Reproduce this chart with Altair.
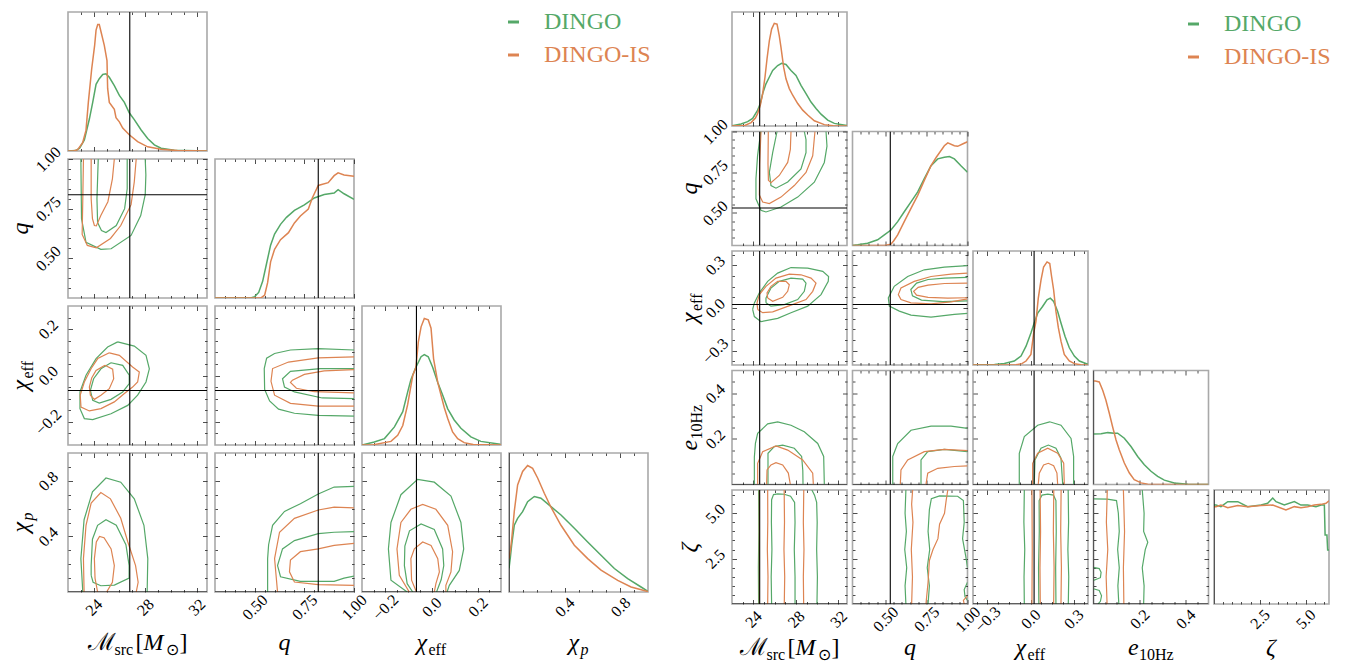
import altair as alt
import pandas as pd

GREEN = "#55a868"
ORANGE = "#dd8452"
SERIES = ["DINGO", "DINGO-IS"]
FONT = "Liberation Serif"
TWO_PI = 6.2832

# ====================== LEFT CORNER ======================
# 1D marginals: (value, relative height)
L_MC_G = [(22.0,0),(22.6,0.003),(22.9,0.02),(23.27,0.08),(23.66,0.23),(23.92,0.35),(24.18,0.48),(24.43,0.52),(24.70,0.55),(24.95,0.555),(25.21,0.53),(25.60,0.47),(25.99,0.40),(26.38,0.35),(26.76,0.275),(27.15,0.226),(27.67,0.153),(28.19,0.09),(28.71,0.044),(29.23,0.02),(30.26,0.005),(32.8,0)]
L_MC_O = [(22.0,0),(22.5,0.002),(22.75,0.01),(23.14,0.06),(23.40,0.15),(23.58,0.35),(23.84,0.59),(24.07,0.76),(24.18,0.87),(24.31,0.91),(24.43,0.91),(24.56,0.86),(24.82,0.76),(25.03,0.65),(25.08,0.45),(25.21,0.35),(25.60,0.30),(25.73,0.24),(25.99,0.21),(26.25,0.165),(26.76,0.117),(27.41,0.068),(28.19,0.03),(29.23,0.012),(30.5,0.003),(32.8,0)]
L_Q_G = [(0.30,0),(0.48,0.0),(0.50,0.01),(0.52,0.04),(0.54,0.12),(0.56,0.25),(0.58,0.38),(0.60,0.46),(0.63,0.53),(0.66,0.58),(0.70,0.63),(0.75,0.67),(0.80,0.72),(0.85,0.745),(0.90,0.755),(0.92,0.78),(0.95,0.75),(1.0,0.71)]
L_Q_O = [(0.30,0),(0.53,0.0),(0.55,0.02),(0.565,0.11),(0.58,0.26),(0.60,0.35),(0.63,0.42),(0.67,0.47),(0.70,0.54),(0.73,0.59),(0.77,0.64),(0.79,0.72),(0.82,0.81),(0.87,0.83),(0.90,0.88),(0.92,0.90),(0.95,0.885),(1.0,0.875)]
L_CHI_G = [(-0.30,0),(-0.247,0.022),(-0.203,0.046),(-0.16,0.13),(-0.124,0.24),(-0.103,0.38),(-0.089,0.47),(-0.067,0.56),(-0.045,0.635),(-0.031,0.65),(-0.014,0.635),(0.005,0.56),(0.027,0.45),(0.048,0.36),(0.07,0.26),(0.098,0.18),(0.127,0.12),(0.17,0.058),(0.213,0.026),(0.297,0.005)]
L_CHI_O = [(-0.30,0),(-0.25,0.002),(-0.175,0.026),(-0.146,0.07),(-0.124,0.14),(-0.103,0.29),(-0.081,0.50),(-0.067,0.56),(-0.057,0.74),(-0.045,0.85),(-0.031,0.91),(-0.014,0.90),(-0.002,0.84),(0.009,0.62),(0.027,0.45),(0.041,0.36),(0.055,0.27),(0.07,0.19),(0.091,0.094),(0.113,0.046),(0.141,0.017),(0.18,0.003),(0.30,0)]
L_CHIP_G = [(0,0.17),(0.01,0.25),(0.019,0.337),(0.038,0.48),(0.062,0.53),(0.098,0.578),(0.134,0.65),(0.182,0.687),(0.23,0.675),(0.302,0.614),(0.374,0.554),(0.47,0.458),(0.566,0.36),(0.662,0.265),(0.758,0.169),(0.854,0.096),(0.95,0.036),(1.0,0.005)]
L_CHIP_O = [(0,0.24),(0.01,0.30),(0.02,0.385),(0.038,0.58),(0.062,0.77),(0.098,0.867),(0.134,0.91),(0.17,0.89),(0.206,0.82),(0.254,0.71),(0.302,0.61),(0.374,0.48),(0.47,0.337),(0.566,0.24),(0.662,0.157),(0.782,0.084),(0.878,0.036),(1.0,0.003)]

# 2D contours (x, y) per panel: green [inner, outer], orange [inner, outer]
L_MC_Q_G = [[(24.35,1.0),(24.25,0.8),(24.3,0.68),(24.6,0.64),(24.95,0.63),(25.75,0.665),(26.4,0.75),(26.6,0.85),(26.6,1.0)],
            [(23.0,1.0),(23.05,0.70),(23.4,0.58),(24.55,0.545),(25.35,0.548),(26.9,0.615),(27.65,0.715),(28.0,0.82),(28.05,0.92),(28.0,1.0)]]
L_MC_Q_O = [[(23.8,1.0),(23.8,0.8),(23.9,0.70),(24.05,0.665),(24.2,0.663),(24.55,0.715),(25.1,0.785),(25.45,0.90),(25.6,1.0)],
            [(23.2,1.0),(23.15,0.8),(23.1,0.62),(23.5,0.565),(24.2,0.553),(25.3,0.60),(26.1,0.665),(26.9,0.77),(27.15,0.885),(27.3,1.0)]]
L_MC_CHI_G = [[(25.34,0.055),(26.25,0.044),(26.76,0.001),(26.76,-0.035),(26.25,-0.071),(25.34,-0.103),(24.43,-0.119),(23.92,-0.107),(23.74,-0.064),(23.99,-0.014),(24.56,0.029),(25.34,0.055)],
              [(25.86,0.145),(27.15,0.127),(28.06,0.087),(28.32,0.029),(28.06,-0.028),(27.41,-0.085),(26.64,-0.129),(25.34,-0.165),(23.92,-0.19),(23.27,-0.186),(22.93,-0.143),(22.93,-0.071),(23.40,0.001),(24.18,0.073),(25.08,0.123),(25.86,0.145)]]
L_MC_CHI_O = [[(24.87,0.044),(25.47,0.027),(25.55,-0.014),(25.21,-0.057),(24.56,-0.085),(24.05,-0.103),(23.74,-0.085),(23.66,-0.05),(23.84,-0.011),(24.18,0.022),(24.87,0.044)],
              [(25.21,0.098),(25.99,0.087),(27.02,0.037),(27.54,0.015),(27.41,-0.028),(27.02,-0.05),(26.38,-0.078),(25.60,-0.114),(24.56,-0.143),(23.66,-0.153),(23.01,-0.136),(22.95,-0.085),(23.27,-0.028),(23.79,0.029),(24.31,0.073),(25.21,0.098)]]
L_Q_CHI_G = [[(1.0,0.03),(0.83,0.03),(0.68,0.018),(0.64,-0.014),(0.65,-0.05),(0.70,-0.071),(0.84,-0.097),(1.0,-0.10)],
             [(1.0,0.11),(0.82,0.116),(0.68,0.11),(0.6,0.095),(0.56,0.075),(0.548,0.03),(0.55,-0.06),(0.575,-0.11),(0.62,-0.145),(0.70,-0.163),(0.82,-0.172),(1.0,-0.175)]]
L_Q_CHI_O = [[(1.0,0.025),(0.85,0.02),(0.75,0.005),(0.69,-0.02),(0.68,-0.03),(0.71,-0.055),(0.80,-0.07),(1.0,-0.075)],
             [(1.0,0.08),(0.82,0.076),(0.67,0.058),(0.59,0.03),(0.582,-0.025),(0.60,-0.085),(0.68,-0.12),(0.82,-0.132),(1.0,-0.132)]]
L_MC_CHIP_G = [[(23.8,0.12),(23.8,0.19),(23.9,0.38),(24.3,0.48),(24.95,0.52),(25.75,0.48),(26.5,0.34),(26.75,0.19),(26.75,0.10),(25.6,0.05),(24.55,0.045),(23.95,0.07),(23.8,0.12)],
               [(23.15,0.0),(23.0,0.24),(23.25,0.52),(23.9,0.72),(24.95,0.82),(26.1,0.79),(27.15,0.67),(27.9,0.48),(28.2,0.24),(28.15,0.0)]]
L_MC_CHIP_O = [[(24.3,0.0),(24.1,0.10),(24.05,0.24),(24.2,0.36),(24.45,0.40),(24.8,0.39),(25.35,0.31),(25.6,0.19),(25.45,0.07),(25.0,0.0)],
               [(23.25,0.0),(23.2,0.24),(23.4,0.48),(23.8,0.64),(24.55,0.715),(25.3,0.67),(26.1,0.53),(26.65,0.36),(27.25,0.19),(27.45,0.07),(27.3,0.0)]]
L_Q_CHIP_G = [[(1.0,0.435),(0.90,0.43),(0.82,0.42),(0.70,0.37),(0.64,0.31),(0.615,0.19),(0.63,0.11),(0.73,0.077),(0.90,0.077),(0.95,0.10),(1.0,0.115)],
              [(0.565,0.0),(0.565,0.24),(0.57,0.34),(0.59,0.48),(0.65,0.58),(0.73,0.635),(0.82,0.705),(0.90,0.755),(1.0,0.76)]]
L_Q_CHIP_O = [[(1.0,0.35),(0.90,0.336),(0.82,0.31),(0.73,0.29),(0.68,0.23),(0.675,0.145),(0.70,0.072),(0.82,0.053),(1.0,0.048)],
              [(0.615,0.0),(0.60,0.24),(0.625,0.43),(0.70,0.53),(0.82,0.59),(0.90,0.61),(1.0,0.605)]]
L_CHI_CHIP_G = [[(-0.081,0.0),(-0.105,0.06),(-0.117,0.19),(-0.115,0.33),(-0.095,0.44),(-0.045,0.49),(0.012,0.45),(0.048,0.31),(0.053,0.19),(0.042,0.09),(0.027,0.024),(0.022,0.0)],
                [(-0.105,0.0),(-0.175,0.085),(-0.186,0.31),(-0.175,0.50),(-0.132,0.70),(-0.06,0.81),(0.012,0.79),(0.084,0.69),(0.127,0.50),(0.139,0.31),(0.12,0.155),(0.077,0.048),(0.067,0.0)]]
L_CHI_CHIP_O = [[(-0.065,0.0),(-0.086,0.085),(-0.089,0.24),(-0.074,0.31),(-0.038,0.36),(-0.002,0.335),(0.027,0.24),(0.034,0.145),(0.019,0.06),(0.012,0.0)],
                [(-0.096,0.0),(-0.139,0.12),(-0.149,0.31),(-0.132,0.50),(-0.089,0.595),(-0.038,0.63),(0.019,0.595),(0.07,0.48),(0.091,0.29),(0.084,0.145),(0.062,0.048),(0.062,0.0)]]

# ====================== RIGHT CORNER ======================
R_MC_G = [(22,0.002),(22.85,0.017),(23.47,0.038),(23.94,0.067),(24.41,0.139),(24.66,0.197),(24.88,0.284),(25.19,0.37),(25.51,0.43),(25.82,0.487),(26.29,0.53),(26.66,0.55),(27.07,0.54),(27.54,0.487),(28.01,0.443),(28.48,0.357),(28.95,0.284),(29.42,0.21),(29.89,0.154),(30.36,0.104),(30.99,0.052),(31.61,0.023),(32.8,0.004)]
R_MC_O = [(22,0),(23.2,0.005),(23.8,0.03),(24.2,0.07),(24.41,0.11),(24.66,0.183),(24.88,0.284),(25.10,0.43),(25.29,0.59),(25.51,0.75),(25.72,0.85),(25.97,0.90),(26.23,0.893),(26.44,0.79),(26.60,0.69),(26.85,0.516),(27.07,0.414),(27.38,0.328),(27.70,0.27),(28.17,0.197),(28.64,0.139),(29.11,0.096),(29.73,0.046),(30.67,0.012),(31.5,0.002),(32.8,0)]
R_Q_G = [(0.3,0.0),(0.332,0.006),(0.392,0.02),(0.453,0.05),(0.494,0.093),(0.534,0.136),(0.575,0.209),(0.615,0.296),(0.656,0.383),(0.697,0.47),(0.737,0.586),(0.778,0.70),(0.819,0.76),(0.859,0.774),(0.89,0.78),(0.92,0.76),(0.96,0.70),(1.0,0.643)]
R_Q_O = [(0.3,0),(0.494,0.0),(0.534,0.012),(0.55,0.04),(0.575,0.093),(0.615,0.209),(0.656,0.325),(0.697,0.44),(0.737,0.571),(0.778,0.70),(0.81,0.774),(0.859,0.875),(0.88,0.90),(0.92,0.875),(0.94,0.87),(0.97,0.89),(1.0,0.91)]
R_CHI_G = [(-0.4,0),(-0.25,0.004),(-0.182,0.014),(-0.113,0.035),(-0.066,0.078),(-0.031,0.165),(0.003,0.28),(0.026,0.368),(0.05,0.455),(0.084,0.513),(0.115,0.571),(0.138,0.586),(0.161,0.557),(0.189,0.47),(0.212,0.368),(0.24,0.252),(0.27,0.151),(0.305,0.078),(0.34,0.035),(0.4,0.006)]
R_CHI_O = [(-0.4,0),(-0.1,0.003),(-0.06,0.012),(-0.031,0.035),(0.003,0.093),(0.022,0.28),(0.038,0.383),(0.054,0.585),(0.073,0.745),(0.091,0.86),(0.115,0.904),(0.134,0.89),(0.147,0.774),(0.161,0.658),(0.177,0.47),(0.194,0.325),(0.212,0.209),(0.235,0.093),(0.27,0.035),(0.305,0.012),(0.35,0.002),(0.4,0)]
R_E_G = [(0.0,0.443),(0.033,0.445),(0.062,0.455),(0.09,0.449),(0.105,0.45),(0.134,0.406),(0.163,0.333),(0.192,0.246),(0.221,0.174),(0.25,0.116),(0.279,0.072),(0.308,0.038),(0.351,0.014),(0.41,0.003),(0.5,0)]
R_E_O = [(0.0,0.907),(0.008,0.907),(0.025,0.899),(0.04,0.826),(0.054,0.739),(0.069,0.623),(0.083,0.507),(0.098,0.391),(0.112,0.304),(0.134,0.188),(0.156,0.101),(0.177,0.043),(0.207,0.014),(0.236,0.003),(0.3,0),(0.5,0)]
R_Z_G = [(0.0,0.868),(0.11,0.868),(0.38,0.854),(0.75,0.898),(1.30,0.898),(1.84,0.854),(2.57,0.868),(2.93,0.883),(3.21,0.93),(3.39,0.898),(3.84,0.868),(4.39,0.898),(4.75,0.868),(5.12,0.868),(5.57,0.854),(5.85,0.868),(6.03,0.868),(6.07,0.605),(6.17,0.605),(6.21,0.474),(6.2832,0.474)]
R_Z_O = [(0.0,0.854),(0.11,0.854),(0.38,0.868),(0.75,0.845),(1.30,0.863),(1.84,0.854),(2.57,0.863),(3.21,0.868),(3.93,0.825),(4.39,0.854),(4.75,0.845),(5.12,0.854),(5.48,0.868),(5.85,0.874),(6.12,0.883),(6.2832,0.905)]

R_MC_Q_G = [[(26.23,1.0),(25.82,0.87),(25.51,0.75),(25.66,0.668),(26.13,0.652),(27.23,0.69),(28.48,0.77),(28.95,0.87),(28.95,0.95),(28.79,1.0)],
            [(24.7,1.0),(24.4,0.85),(24.25,0.71),(24.25,0.587),(24.72,0.516),(25.19,0.506),(26.60,0.536),(28.17,0.597),(29.73,0.689),(30.67,0.81),(30.92,0.91),(30.83,1.0)]]
R_MC_Q_O = [[(25.41,1.0),(25.38,0.80),(25.42,0.70),(25.66,0.685),(26.44,0.73),(27.23,0.81),(27.48,0.89),(27.54,1.0)],
            [(24.72,1.0),(24.6,0.80),(24.57,0.61),(24.88,0.567),(25.51,0.557),(26.60,0.597),(27.85,0.668),(28.95,0.749),(29.58,0.851),(29.79,1.0)]]
R_MC_CHI_G = [[(25.19,0.036),(25.66,0.013),(26.91,0.024),(28.17,0.059),(28.79,0.117),(28.95,0.175),(28.64,0.203),(27.54,0.21),(26.44,0.187),(25.66,0.14),(25.19,0.07),(25.19,0.036)],
              [(23.94,-0.01),(24.1,0.036),(24.57,0.106),(25.35,0.187),(26.29,0.245),(27.54,0.284),(29.11,0.28),(30.52,0.257),(31.07,0.221),(31.04,0.187),(30.36,0.094),(29.11,0.013),(27.54,-0.033),(26.29,-0.073),(24.72,-0.096),(24.1,-0.06),(23.94,-0.01)]]
R_MC_CHI_O = [[(25.35,0.07),(25.82,0.047),(26.76,0.075),(27.23,0.117),(27.38,0.163),(27.07,0.187),(26.29,0.187),(25.66,0.152),(25.29,0.106),(25.35,0.07)],
              [(24.41,-0.01),(24.88,-0.033),(25.82,-0.027),(27.54,0.02),(28.95,0.059),(29.58,0.117),(29.89,0.175),(29.42,0.21),(28.48,0.233),(27.38,0.238),(26.13,0.21),(25.19,0.152),(24.57,0.094),(24.35,0.036),(24.41,-0.01)]]
R_Q_CHI_G = [[(1.0,0.215),(0.86,0.21),(0.76,0.20),(0.69,0.175),(0.655,0.13),(0.665,0.085),(0.72,0.055),(0.85,0.045),(1.0,0.05)],
             [(1.0,0.298),(0.859,0.287),(0.737,0.268),(0.636,0.221),(0.554,0.152),(0.518,0.071),(0.524,0.013),(0.585,-0.022),(0.656,-0.05),(0.778,-0.064),(0.92,-0.045),(1.0,-0.038)]]
R_Q_CHI_O = [[(1.0,0.175),(0.86,0.172),(0.76,0.16),(0.70,0.145),(0.672,0.117),(0.69,0.09),(0.76,0.075),(0.88,0.07),(1.0,0.072)],
             [(1.0,0.245),(0.90,0.238),(0.778,0.221),(0.676,0.187),(0.595,0.14),(0.579,0.094),(0.595,0.059),(0.656,0.036),(0.778,0.029),(0.90,0.043),(1.0,0.064)]]
R_MC_E_G = [[(25.38,0.0),(25.38,0.137),(25.97,0.166),(26.76,0.173),(27.85,0.159),(28.54,0.123),(28.65,0.06),(28.67,0.0)],
            [(24.1,0.0),(24.1,0.12),(24.2,0.18),(24.41,0.224),(25.35,0.266),(26.29,0.275),(27.54,0.26),(28.79,0.231),(30.05,0.18),(30.61,0.123),(30.67,0.0)]]
R_MC_E_O = [[(25.25,0.0),(25.29,0.064),(25.66,0.086),(26.13,0.096),(26.76,0.086),(27.29,0.05),(27.48,0.0)],
            [(24.41,0.0),(24.41,0.093),(24.88,0.144),(26.13,0.169),(27.23,0.151),(28.64,0.108),(29.58,0.05),(29.64,0.0)]]
R_Q_E_G = [[(0.717,0.0),(0.717,0.108),(0.758,0.144),(0.859,0.154),(1.0,0.144)],
           [(0.545,0.0),(0.545,0.123),(0.575,0.18),(0.656,0.238),(0.778,0.256),(0.90,0.256),(1.0,0.246)]]
R_Q_E_O = [[(0.747,0.0),(0.758,0.05),(0.819,0.071),(0.92,0.079),(1.0,0.082)],
           [(0.591,0.0),(0.595,0.064),(0.636,0.108),(0.737,0.144),(0.859,0.154),(1.0,0.149)]]
R_CHI_E_G = [[(0.026,0.0),(0.031,0.108),(0.073,0.159),(0.124,0.173),(0.177,0.159),(0.212,0.115),(0.224,0.0)],
             [(-0.078,0.0),(-0.078,0.137),(-0.043,0.21),(0.05,0.26),(0.133,0.275),(0.212,0.26),(0.282,0.202),(0.30,0.123),(0.30,0.0)]]
R_CHI_E_O = [[(0.054,0.0),(0.061,0.05),(0.091,0.086),(0.124,0.093),(0.161,0.082),(0.184,0.05),(0.189,0.0)],
             [(0.015,0.0),(0.015,0.093),(0.05,0.137),(0.12,0.159),(0.189,0.137),(0.231,0.093),(0.235,0.0)]]
R_MC_Z_G = [[(25.72,0.0),(25.68,1.5),(25.75,3.0),(25.7,4.5),(25.72,5.75),(25.9,6.03),(26.3,6.07),(26.9,6.05),(27.5,5.94),(27.88,5.6),(27.92,4.5),(27.85,3.0),(27.92,1.5),(27.92,0.0)],
            [(24.5,0.0),(24.48,2.0),(24.52,4.0),(24.5,6.2832)],
            [(29.98,0.0),(30.02,1.5),(29.95,3.0),(30.0,4.5),(29.95,5.6),(29.75,6.0),(29.5,6.2832)]]
R_MC_Z_O = [[(25.35,0.0),(25.38,1.5),(25.32,3.0),(25.36,4.5),(25.35,6.2832)],
            [(26.91,0.0),(26.95,1.5),(26.88,3.0),(26.93,4.5),(26.9,6.2832)],
            [(24.57,0.0),(24.57,6.2832)],
            [(28.73,0.0),(28.7,1.5),(28.76,3.0),(28.7,4.5),(28.74,6.2832)]]
R_Q_Z_G = [[(0.76,0.0),(0.768,1.0),(0.755,2.0),(0.77,3.0),(0.76,4.0),(0.768,5.2),(0.78,5.8),(0.83,5.96),(0.94,5.94),(0.975,5.7),(0.98,4.5),(0.97,3.6),(0.99,2.6),(1.0,2.0)],
           [(1.0,1.2),(0.98,0.8),(0.985,0.4),(1.0,0.2)],
           [(0.625,0.0),(0.62,1.0),(0.63,2.0),(0.618,3.0),(0.628,4.0),(0.62,5.0),(0.625,6.2832)]]
R_Q_Z_O = [[(0.747,0.0),(0.76,1.2),(0.768,2.4),(0.79,3.0),(0.82,3.6),(0.83,4.4),(0.86,5.0),(0.87,5.7),(0.88,6.2832)],
           [(1.0,0.45),(0.975,0.2),(0.98,0.0)],
           [(0.66,0.0),(0.665,1.5),(0.658,3.0),(0.668,4.5),(0.66,5.5),(0.666,6.2832)]]
R_CHI_Z_G = [[(0.058,0.0),(0.056,2.0),(0.061,4.0),(0.06,5.7),(0.08,6.0),(0.12,6.05),(0.16,6.0),(0.177,5.7),(0.179,4.0),(0.175,2.0),(0.177,0.0)],
             [(-0.043,0.0),(-0.045,1.5),(-0.04,3.0),(-0.046,4.5),(-0.043,6.2832)],
             [(0.263,0.0),(0.266,1.5),(0.26,3.0),(0.265,4.5),(0.262,6.2832)]]
R_CHI_Z_O = [[(0.068,0.0),(0.066,2.0),(0.07,4.0),(0.067,6.2832)],
             [(0.161,0.0),(0.164,2.0),(0.159,4.0),(0.162,6.2832)],
             [(0.01,0.0),(0.012,3.0),(0.01,6.2832)],
             [(0.212,0.0),(0.215,2.0),(0.21,4.0),(0.213,6.2832)]]
R_E_Z_G = [[(0.0,5.79),(0.06,5.78),(0.1,5.7),(0.108,5.0),(0.112,4.0),(0.105,3.0),(0.112,2.0),(0.106,1.0),(0.11,0.0)],
           [(0.0,2.02),(0.025,1.95),(0.033,1.75),(0.03,1.45),(0.0,1.3)],
           [(0.0,0.84),(0.025,0.75),(0.035,0.45),(0.03,0.15),(0.02,0.0)],
           [(0.218,0.0),(0.22,1.0),(0.212,2.0),(0.225,3.0),(0.236,3.4),(0.218,4.0),(0.22,5.0),(0.212,6.2832)]]
R_E_Z_O = [[(0.059,0.0),(0.055,1.5),(0.062,3.0),(0.056,4.5),(0.06,6.2832)],
           [(0.132,0.0),(0.13,2.0),(0.135,4.0),(0.13,6.2832)]]

# axis titles as pieces: (text, is_subscript, italic, approx. advance width in px)
T_MC = [("ℳ", 0, 0, 27), ("src", 1, 0, 21), ("[", 0, 0, 8), ("M", 0, 1, 22), ("⊙", 1, 0, 14), ("]", 0, 0, 8)]
T_Q = [("q", 0, 1, 12)]
T_CHI = [("χ", 0, 1, 12), ("eff", 1, 0, 18)]
T_CHIP = [("χ", 0, 1, 12), ("p", 1, 1, 8)]
T_E = [("e", 0, 1, 11), ("10Hz", 1, 0, 35)]
T_Z = [("ζ", 0, 1, 11)]

# axis definitions (domain, major ticks, minor ticks, format, title, injected value)
L_VARS = [
    dict(dom=[22.0, 32.8], maj=[24, 28, 32], mnr=[23, 25, 26, 27, 29, 30, 31], fmt="d", title=T_MC, truth=26.8),
    dict(dom=[0.3, 1.0], maj=[0.5, 0.75, 1.0], mnr=[0.35, 0.4, 0.45, 0.55, 0.6, 0.65, 0.7, 0.8, 0.85, 0.9, 0.95], fmt=".2f", title=T_Q, truth=0.82),
    dict(dom=[-0.3, 0.3], maj=[-0.2, 0.0, 0.2], mnr=[-0.25, -0.15, -0.1, -0.05, 0.05, 0.1, 0.15, 0.25], fmt=".1f", title=T_CHI, truth=-0.065),
    dict(dom=[0.0, 1.0], maj=[0.4, 0.8], mnr=[0.1, 0.2, 0.3, 0.5, 0.6, 0.7, 0.9], fmt=".1f", title=T_CHIP, truth=0.0),
]
R_VARS = [
    dict(dom=[22.0, 32.8], maj=[24, 28, 32], mnr=[23, 25, 26, 27, 29, 30, 31], fmt="d", title=T_MC, truth=24.6),
    dict(dom=[0.3, 1.0], maj=[0.5, 0.75, 1.0], mnr=[0.35, 0.4, 0.45, 0.55, 0.6, 0.65, 0.7, 0.8, 0.85, 0.9, 0.95], fmt=".2f", title=T_Q, truth=0.53),
    dict(dom=[-0.4, 0.4], maj=[-0.3, 0.0, 0.3], mnr=[-0.375, -0.225, -0.15, -0.075, 0.075, 0.15, 0.225, 0.375], fmt=".1f", title=T_CHI, truth=0.025),
    dict(dom=[0.0, 0.5], maj=[0.2, 0.4], mnr=[0.05, 0.1, 0.15, 0.25, 0.3, 0.35, 0.45], fmt=".1f", title=T_E, truth=0.0),
    dict(dom=[0.0, TWO_PI], maj=[2.5, 5.0], mnr=[0.5, 1.0, 1.5, 2.0, 3.0, 3.5, 4.0, 4.5, 5.5, 6.0], fmt=".1f", title=T_Z, truth=0.0),
]

L_HISTS = [(L_MC_G, L_MC_O), (L_Q_G, L_Q_O), (L_CHI_G, L_CHI_O), (L_CHIP_G, L_CHIP_O)]
L_CONTS = {(1, 0): (L_MC_Q_G, L_MC_Q_O), (2, 0): (L_MC_CHI_G, L_MC_CHI_O), (2, 1): (L_Q_CHI_G, L_Q_CHI_O),
           (3, 0): (L_MC_CHIP_G, L_MC_CHIP_O), (3, 1): (L_Q_CHIP_G, L_Q_CHIP_O), (3, 2): (L_CHI_CHIP_G, L_CHI_CHIP_O)}
R_HISTS = [(R_MC_G, R_MC_O), (R_Q_G, R_Q_O), (R_CHI_G, R_CHI_O), (R_E_G, R_E_O), (R_Z_G, R_Z_O)]
R_CONTS = {(1, 0): (R_MC_Q_G, R_MC_Q_O), (2, 0): (R_MC_CHI_G, R_MC_CHI_O), (2, 1): (R_Q_CHI_G, R_Q_CHI_O),
           (3, 0): (R_MC_E_G, R_MC_E_O), (3, 1): (R_Q_E_G, R_Q_E_O), (3, 2): (R_CHI_E_G, R_CHI_E_O),
           (4, 0): (R_MC_Z_G, R_MC_Z_O), (4, 1): (R_Q_Z_G, R_Q_Z_O), (4, 2): (R_CHI_Z_G, R_CHI_Z_O), (4, 3): (R_E_Z_G, R_E_Z_O)}

CSCALE = alt.Scale(domain=SERIES, range=[GREEN, ORANGE])
LABEL_FS = 16
TITLE_MAIN = 24
TITLE_SUB = 16
SUB_DROP = 5
DUMMY = pd.DataFrame({"k": [0]})


def lines_df(green_polys, orange_polys):
    rows = []
    for series, polys in ((SERIES[0], green_polys), (SERIES[1], orange_polys)):
        for k, poly in enumerate(polys):
            for i, (x, y) in enumerate(poly):
                rows.append({"x": x, "y": y, "series": series, "seg": f"{series}-{k}", "i": i})
    return pd.DataFrame(rows)


def tick_size(majors):
    test = "indexof([" + ",".join(repr(float(m)) for m in majors) + "], datum.value) >= 0"
    return {"condition": {"test": test, "value": 4.5}, "value": 2.5}


def tick_axis(orient, offset, v):
    return alt.Axis(orient=orient, offset=offset, values=sorted(v["maj"] + v["mnr"]),
                    tickSize=tick_size(v["maj"]), tickColor="#222222", tickWidth=0.8,
                    labels=False, domain=False, grid=False, title=None)


def label_axis(orient, v, pad):
    return alt.Axis(orient=orient, values=v["maj"], format=v["fmt"], ticks=False, tickSize=0,
                    domain=False, grid=False, labelAngle=-45, labelAlign="center",
                    labelBaseline="middle", labelPadding=pad, labelFont=FONT,
                    labelFontSize=LABEL_FS, labelColor="black", labelOverlap=False,
                    labelFlush=False, title=None)


def title_layers(pieces, W, H, vertical, base):
    total = sum(p[3] for p in pieces)
    out = []
    pos = 0
    for text, sub, ital, w in pieces:
        fs = TITLE_SUB if sub else TITLE_MAIN
        drop = SUB_DROP if sub else 0
        style = "italic" if ital else "normal"
        if vertical:
            mk = alt.Chart(DUMMY).mark_text(text=text, align="left", baseline="alphabetic", angle=270,
                                            font=FONT, fontSize=fs, fontStyle=style, color="black")
            out.append(mk.encode(x=alt.value(-base + drop), y=alt.value(H / 2 + total / 2 - pos)))
        else:
            mk = alt.Chart(DUMMY).mark_text(text=text, align="left", baseline="alphabetic",
                                            font=FONT, fontSize=fs, fontStyle=style, color="black")
            out.append(mk.encode(x=alt.value(W / 2 - total / 2 + pos), y=alt.value(H + base + drop)))
        pos += w
    return out


def panel(W, H, xv, yv, df, show_x, show_y, diag, geo):
    xs = alt.Scale(domain=xv["dom"], nice=False, zero=False)
    ydom = [0.0, 1.0] if diag else yv["dom"]
    ys = alt.Scale(domain=ydom, nice=False, zero=False)
    corners = pd.DataFrame({"x": xv["dom"], "y": ydom})
    inv1 = alt.Chart(corners).mark_point(opacity=0).encode(
        x=alt.X("x:Q", scale=xs, axis=tick_axis("top", -H, xv)),
        y=alt.Y("y:Q", scale=ys, axis=None if diag else tick_axis("right", -W, yv)))
    inv2 = alt.Chart(corners).mark_point(opacity=0).encode(
        x=alt.X("x:Q", scale=xs, axis=tick_axis("bottom", -H, xv)),
        y=alt.Y("y:Q", scale=ys, axis=None if diag else tick_axis("left", -W, yv)))
    lines = alt.Chart(df).mark_line(strokeWidth=1.5 if diag else 1.2, clip=True).encode(
        x=alt.X("x:Q", scale=xs, axis=label_axis("bottom", xv, geo["xlab"]) if show_x else None),
        y=alt.Y("y:Q", scale=ys, axis=label_axis("left", yv, geo["ylab"]) if show_y else None),
        color=alt.Color("series:N", scale=CSCALE, legend=None),
        detail="seg:N", order="i:Q")
    layers = [inv1, inv2, lines]
    vr = alt.Chart(pd.DataFrame({"x": [xv["truth"]]})).mark_rule(color="black", strokeWidth=1.1, clip=True).encode(
        x=alt.X("x:Q", scale=xs, axis=None))
    layers.append(vr)
    if not diag:
        hr = alt.Chart(pd.DataFrame({"y": [yv["truth"]]})).mark_rule(color="black", strokeWidth=1.1, clip=True).encode(
            y=alt.Y("y:Q", scale=ys, axis=None))
        layers.append(hr)
    if show_x:
        layers += title_layers(xv["title"], W, H, False, geo["xtitle"])
    if show_y:
        layers += title_layers(yv["title"], W, H, True, geo["ytitle"])
    return alt.layer(*layers).resolve_axis(x="independent", y="independent").properties(width=W, height=H)


def empty(W, H):
    return alt.Chart(DUMMY).mark_point(opacity=0).encode(
        x=alt.X("k:Q", axis=None), y=alt.Y("k:Q", axis=None)
    ).properties(width=W, height=H, view=alt.ViewBackground(strokeOpacity=0))


def legend_cell(W, H, dx, y0):
    ldf = pd.DataFrame({"series": SERIES, "label": SERIES})
    ys = alt.Scale(type="point", domain=SERIES, range=[y0, y0 + 33], padding=0)
    dash = alt.Chart(ldf).mark_rule(strokeWidth=3).encode(
        x=alt.value(dx), x2=alt.value(dx + 11), y=alt.Y("series:N", scale=ys, axis=None),
        color=alt.Color("series:N", scale=CSCALE, legend=None))
    text = alt.Chart(ldf).mark_text(align="left", baseline="middle", font=FONT, fontSize=24).encode(
        x=alt.value(dx + 36), y=alt.Y("series:N", scale=ys, axis=None), text="label:N",
        color=alt.Color("series:N", scale=CSCALE, legend=None))
    return alt.layer(dash, text).properties(width=W, height=H, view=alt.ViewBackground(strokeOpacity=0))


def corner(VARS, HISTS, CONTS, W, H, SP, geo):
    n = len(VARS)
    cells = []
    for r in range(n):
        for c in range(n):
            if c < r:
                g, o = CONTS[(r, c)]
                cells.append(panel(W, H, VARS[c], VARS[r], lines_df(g, o), r == n - 1, c == 0, False, geo))
            elif c == r:
                g, o = HISTS[r]
                cells.append(panel(W, H, VARS[c], None, lines_df([g], [o]), r == n - 1, False, True, geo))
            elif r == 0 and c == n - 1:
                cells.append(legend_cell(W, H, geo["legx"], geo["legy"]))
            else:
                cells.append(empty(W, H))
    return alt.concat(*cells, columns=n, spacing=SP, bounds="flush")


L_GEO = dict(xlab=15, ylab=20, xtitle=58, ytitle=40, legx=-1, legy=10)
R_GEO = dict(xlab=15, ylab=17, xtitle=51, ytitle=35, legx=-26, legy=12)

left = corner(L_VARS, L_HISTS, L_CONTS, 139, 139, 8, L_GEO)
right = corner(R_VARS, R_HISTS, R_CONTS, 115, 114, 5.5, R_GEO)

chart = alt.hconcat(left, right, spacing=25).properties(
    padding={"left": 0, "top": 0, "right": 0, "bottom": 0}
).configure_view(stroke="#a9a9a9", strokeWidth=1.6)

chart.save("out.html", embed_options={"renderer": "svg", "actions": False})
